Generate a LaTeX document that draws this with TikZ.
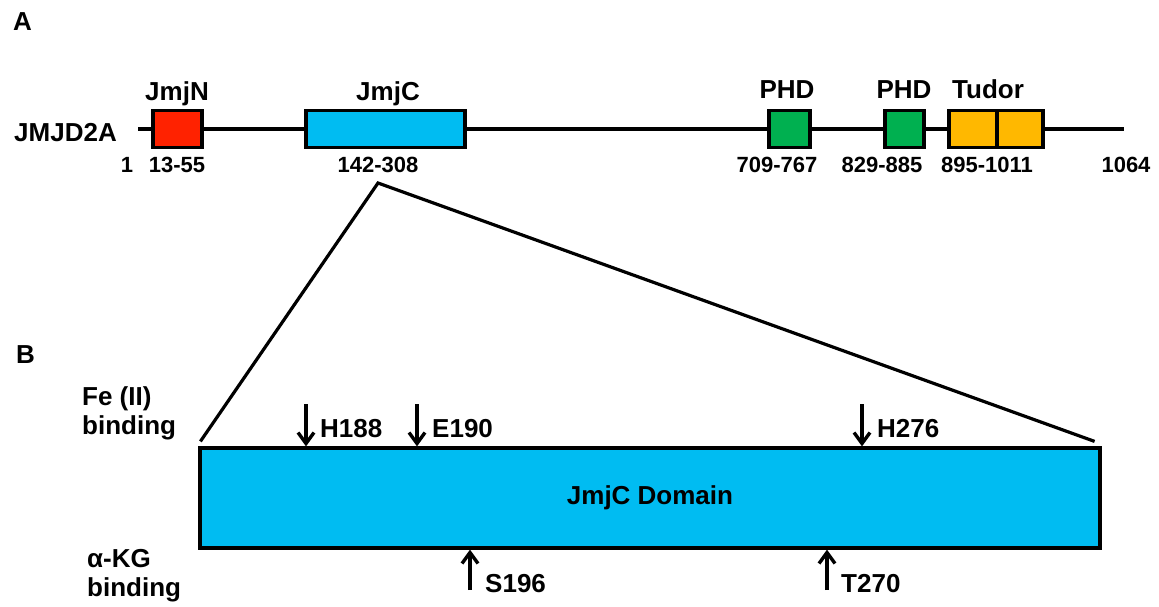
\documentclass[tikz,border=0pt]{standalone}
\usepackage{fontspec}
\setmainfont{Liberation Sans}
\usetikzlibrary{arrows.meta,positioning}
\definecolor{jmjnred}{RGB}{255,34,0}
\definecolor{jmjcblue}{RGB}{0,188,242}
\definecolor{phdgreen}{RGB}{0,176,80}
\definecolor{tudorgold}{RGB}{255,184,0}
\tikzset{
	dom/.style={draw,line width=3.2pt,rectangle,inner sep=0pt,minimum height=37pt},
	lbl/.style={font=\fontsize{26}{29}\selectfont\bfseries,inner sep=0pt},
	num/.style={font=\fontsize{22}{26}\selectfont\bfseries,inner sep=0pt},
	site/.style={line width=3.4pt,-{Straight Barb[length=11pt,width=16pt,line width=3.4pt]}},
	thick line/.style={line width=3.2pt}
}
\begin{document}
\begin{tikzpicture}[x=1pt,y=-1pt]
            \useasboundingbox (0,0) rectangle (1159,606);
            % A: domain map
            \node[lbl,anchor=base west] (pa) at (13,30) {A};
            \coordinate (n1) at (138,129);
            \coordinate (n1064) at (1124,129);
            \draw[thick line] (n1) -- (n1064);
            \node[lbl,anchor=base east] (prot) at (117,141) {JMJD2A};
            \node[dom,fill=jmjnred,minimum width=49pt] (jmjn) at (177.5,129) {};
            \node[dom,fill=jmjcblue,minimum width=159pt] (jmjc) at (385.5,129) {};
            \node[dom,fill=phdgreen,minimum width=41pt] (phda) at (789.5,129) {};
            \node[dom,fill=phdgreen,minimum width=39pt] (phdb) at (904.5,129) {};
            \node[dom,fill=tudorgold,minimum width=48pt] (tudora) at (973,129) {};
            \node[dom,fill=tudorgold,minimum width=46pt] (tudorb) at (1020,129) {};
            \node[lbl,anchor=base] (ljmjn) at (177,100) {JmjN};
            \node[lbl,anchor=base] (ljmjc) at (388,100) {JmjC};
            \node[lbl,anchor=base] (lphda) at (787,98) {PHD};
            \node[lbl,anchor=base] (lphdb) at (904,98) {PHD};
            \node[lbl,anchor=base] (ltudor) at (988,98) {Tudor};
            \node[num,anchor=base] (r1) at (127,172) {1};
            \node[num,anchor=base] (rjmjn) at (177,172) {13-55};
            \node[num,anchor=base] (rjmjc) at (378,172) {142-308};
            \node[num,anchor=base] (rphda) at (777,172) {709-767};
            \node[num,anchor=base] (rphdb) at (882,172) {829-885};
            \node[num,anchor=base] (rtudor) at (987,172) {895-1011};
            \node[num,anchor=base] (r1064) at (1126,172) {1064};
            % B: zoom on JmjC
            \node[lbl,anchor=base west] (pb) at (16,363) {B};
            \node[dom,fill=jmjcblue,minimum width=900pt,minimum height=100pt] (jdom) at (650,498) {};
            \node[lbl] (jdomtxt) at (jdom.center) {JmjC Domain};
            \coordinate (apex) at (378,183);
            \draw[thick line] ([xshift=2pt,yshift=5pt]jdom.north west) -- (apex) -- ([xshift=-7pt,yshift=5pt]jdom.north east);
            \node[lbl,anchor=base west,align=left] (fe) at (82,434) {Fe (II)\\binding};
            \node[lbl,anchor=base west,align=left] (akg) at (87,596) {α-KG\\binding};
            \node[lbl,anchor=base west] (h188) at (320,437) {H188};
            \node[lbl,anchor=base west] (e190) at (432,437) {E190};
            \node[lbl,anchor=base west] (h276) at (877,437) {H276};
            \node[lbl,anchor=base west] (s196) at (485,592) {S196};
            \node[lbl,anchor=base west] (t270) at (841,592) {T270};
            \coordinate (ah188) at (306,404);
            \coordinate (ae190) at (417,404);
            \coordinate (ah276) at (862,404);
            \coordinate (as196) at (470,590);
            \coordinate (at270) at (827,590);
            \draw[site] (ah188) -- (ah188 |- jdom.north);
            \draw[site] (ae190) -- (ae190 |- jdom.north);
            \draw[site] (ah276) -- (ah276 |- jdom.north);
            \draw[site] (as196) -- (as196 |- jdom.south);
            \draw[site] (at270) -- (at270 |- jdom.south);
        \end{tikzpicture}
\end{document}
